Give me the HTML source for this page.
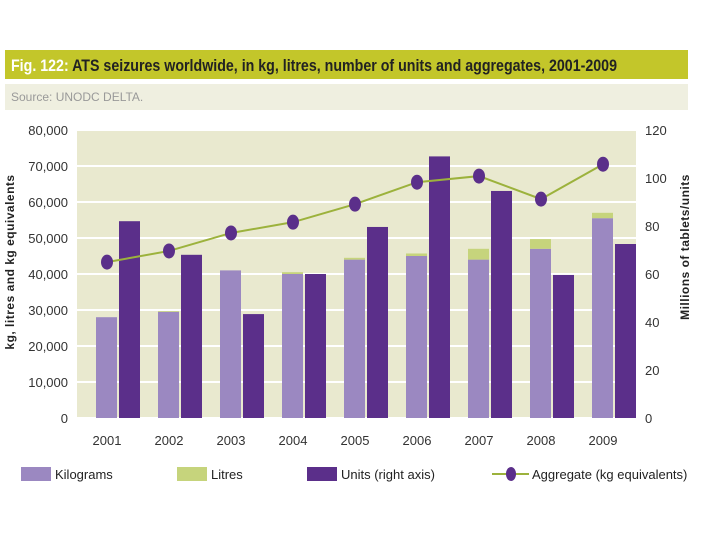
<!DOCTYPE html>
<html><head><meta charset="utf-8"><style>
body{margin:0;width:720px;height:540px;background:#fff;font-family:"Liberation Sans",sans-serif;overflow:hidden}
.s{position:absolute;left:5px;top:84px;width:683px;height:26px;background:#efefe0;font-size:12px;color:#999;line-height:26px;padding-left:6px;box-sizing:border-box}
</style></head><body>
<div class="s">Source: UNODC DELTA.</div>
<svg id="c" width="720" height="540" style="position:absolute;left:0;top:0">
<rect x="5" y="50" width="683" height="29" fill="#c3c62a"/>
<text x="11" y="71" font-size="17" font-weight="bold" fill="#222" textLength="606" lengthAdjust="spacingAndGlyphs"><tspan fill="#fff">Fig. 122:</tspan> ATS seizures worldwide, in kg, litres, number of units and aggregates, 2001-2009</text>
</svg>
<script>
const years=["2001","2002","2003","2004","2005","2006","2007","2008","2009"];
const kilograms=[28000,29500,41000,40000,44000,45000,44000,47000,55500];
const litres=[0,200,0,500,500,700,3000,2700,1500];
const units=[82,68,43.3,60,79.6,109,94.6,59.6,72.5];
const aggregate=[43300,46400,51400,54400,59400,65500,67200,60800,70500];
const leftTicks=[0,10000,20000,30000,40000,50000,60000,70000,80000];
const rightTicks=[0,20,40,60,80,100,120];
const NS="http://www.w3.org/2000/svg",svg=document.getElementById('c');
const x0=77,x1=636,yT=130,yB=418;
const yL=v=>yB-v/80000*(yB-yT), yR=v=>yB-v/120*(yB-yT);
const gx=i=>118+i*62;
function el(t,a,txt){const e=document.createElementNS(NS,t);for(const k in a)e.setAttribute(k,a[k]);if(txt!=null)e.textContent=txt;svg.appendChild(e);return e;}
let e=el('rect',{x:x0,y:yT,width:x1-x0,height:yB-yT,fill:'#e9e9cf'});

leftTicks.forEach(v=>{
 let g=el('line',{x1:x0,x2:x1,y1:yL(v),y2:yL(v),stroke:'#fff','stroke-width':2});
 
 let t=el('text',{x:68,y:yL(v)+5,'text-anchor':'end','font-size':13,fill:'#333'},v.toLocaleString('en-US'));
 
});
rightTicks.forEach(v=>{
 let t=el('text',{x:645,y:yR(v)+5,'font-size':13,fill:'#333'},String(v));
 
});
years.forEach((y,i)=>{
 const c=gx(i);
 let r=el('rect',{x:c-22,y:yL(kilograms[i]),width:21,height:yB-yL(kilograms[i]),fill:'#9b88c1'});
 
 if(litres[i]>0){let l=el('rect',{x:c-22,y:yL(kilograms[i]+litres[i]),width:21,height:yL(kilograms[i])-yL(kilograms[i]+litres[i]),fill:'#c6d47c'});
 }
 let u=el('rect',{x:c+1,y:yR(units[i]),width:21,height:yB-yR(units[i]),fill:'#5b2f8a'});
 
 let t=el('text',{x:c-11,y:445,'text-anchor':'middle','font-size':13,fill:'#333'},y);
 
});
let p=el('polyline',{points:aggregate.map((v,i)=>(gx(i)-11)+','+yL(v)).join(' '),fill:'none',stroke:'#9cb23c','stroke-width':2});

aggregate.forEach((v,i)=>{let m=el('ellipse',{cx:gx(i)-11,cy:yL(v),rx:6,ry:7.5,fill:'#5b2f8a'});
 });
let a=el('text',{transform:'translate(14,262) rotate(-90)','text-anchor':'middle','font-size':12,'font-weight':'bold',fill:'#222','letter-spacing':'0.5'},'kg, litres and kg equivalents');

a=el('text',{transform:'translate(689,247) rotate(-90)','text-anchor':'middle','font-size':12,'font-weight':'bold',fill:'#222','letter-spacing':'0.5'},'Millions of tablets/units');

function leg(x,w,col,label,name){let r=el('rect',{x:x,y:467,width:w,height:14,fill:col});
 let t=el('text',{x:x+w+4,y:479,'font-size':13,fill:'#222'},label);}
leg(21,30,'#9b88c1','Kilograms','legend-kilograms');
leg(177,30,'#c6d47c','Litres','legend-litres');
leg(307,30,'#5b2f8a','Units (right axis)','legend-units');
let ll=el('line',{x1:492,x2:529,y1:474,y2:474,stroke:'#9cb23c','stroke-width':2});
let lm=el('ellipse',{cx:511,cy:474,rx:5,ry:7,fill:'#5b2f8a'});
let lt=el('text',{x:532,y:479,'font-size':13,fill:'#222'},'Aggregate (kg equivalents)');
</script>
</body></html>
